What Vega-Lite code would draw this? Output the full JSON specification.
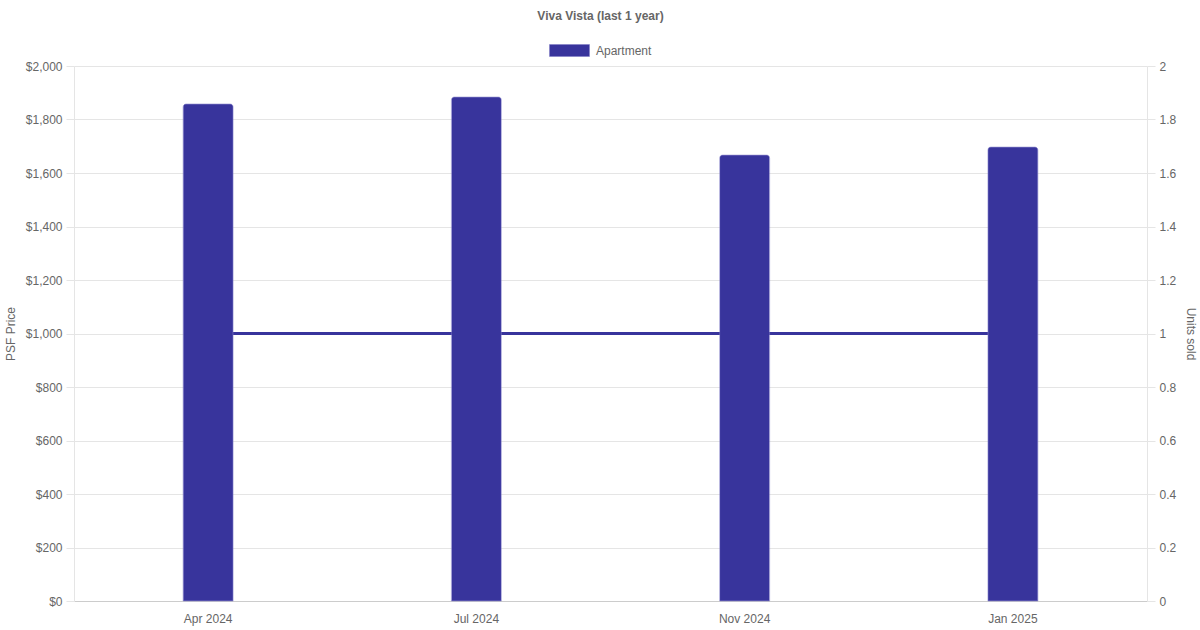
{
  "$schema": "https://vega.github.io/schema/vega-lite/v6.json",
  "autosize": "none",
  "width": 1073,
  "height": 535,
  "padding": {"left": 74, "top": 66, "right": 53, "bottom": 29},
  "background": "white",
  "title": {
    "text": "Viva Vista (last 1 year)",
    "font": "Liberation Sans",
    "fontSize": 12,
    "fontWeight": "bold",
    "color": "#666666",
    "anchor": "middle",
    "dx": -10,
    "offset": 7
  },
  "data": {
    "values": [
      {"month": "Apr 2024", "psf": 1858, "units": 1, "type": "Apartment"},
      {"month": "Jul 2024", "psf": 1884, "units": 1, "type": "Apartment"},
      {"month": "Nov 2024", "psf": 1667, "units": 1, "type": "Apartment"},
      {"month": "Jan 2025", "psf": 1697, "units": 1, "type": "Apartment"}
    ]
  },
  "encoding": {
    "x": {
      "field": "month",
      "type": "nominal",
      "sort": null,
      "scale": {"paddingInner": 0, "paddingOuter": 0},
      "axis": {
        "title": null,
        "labelAngle": 0,
        "ticks": false,
        "labelPadding": 12,
        "domainColor": "#cccccc",
        "grid": false
      }
    }
  },
  "layer": [
    {
      "mark": {"type": "line", "strokeWidth": 3, "color": "#38349c"},
      "encoding": {
        "y": {
          "field": "units",
          "type": "quantitative",
          "title": "Units sold",
          "scale": {"domain": [0, 2]},
          "axis": {
            "orient": "right",
            "values": [0, 0.2, 0.4, 0.6, 0.8, 1, 1.2, 1.4, 1.6, 1.8, 2],
            "format": "~g",
            "grid": false,
            "tickSize": 8,
            "labelPadding": 4,
            "titleAngle": 90,
            "titleBaseline": "bottom",
            "titlePadding": 8,
            "domainColor": "#e5e5e5",
            "tickColor": "#e5e5e5"
          }
        }
      }
    },
    {
      "mark": {
        "type": "bar",
        "size": 50,
        "color": "#38349c",
        "stroke": "#7c79c4",
        "strokeWidth": 0.5,
        "cornerRadiusTopLeft": 3,
        "cornerRadiusTopRight": 3
      },
      "encoding": {
        "y": {
          "field": "psf",
          "type": "quantitative",
          "title": "PSF Price",
          "scale": {"domain": [0, 2000]},
          "axis": {
            "orient": "left",
            "values": [0, 200, 400, 600, 800, 1000, 1200, 1400, 1600, 1800, 2000],
            "format": "$,.0f",
            "grid": true,
            "gridColor": "#e5e5e5",
            "tickSize": 8,
            "labelPadding": 4,
            "titlePadding": 8,
            "domainColor": "#e5e5e5",
            "tickColor": "#e5e5e5"
          }
        },
        "color": {
          "field": "type",
          "type": "nominal",
          "scale": {"domain": ["Apartment"], "range": ["#38349c"]},
          "legend": {
            "title": null,
            "orient": "none",
            "legendX": 475,
            "legendY": -36,
            "symbolType": "M-1,-0.3L1,-0.3L1,0.3L-1,0.3Z",
            "symbolSize": 1600,
            "symbolStrokeColor": "#7c79c4",
            "symbolStrokeWidth": 0.5,
            "labelOffset": 6
          }
        }
      }
    }
  ],
  "resolve": {"scale": {"y": "independent"}},
  "config": {
    "view": {"stroke": null},
    "font": "Liberation Sans",
    "axis": {
      "labelFont": "Liberation Sans",
      "labelFontSize": 12,
      "labelColor": "#666666",
      "titleFont": "Liberation Sans",
      "titleFontSize": 12,
      "titleFontWeight": "normal",
      "titleColor": "#666666"
    },
    "legend": {
      "labelFont": "Liberation Sans",
      "labelFontSize": 12,
      "labelColor": "#666666"
    }
  }
}
